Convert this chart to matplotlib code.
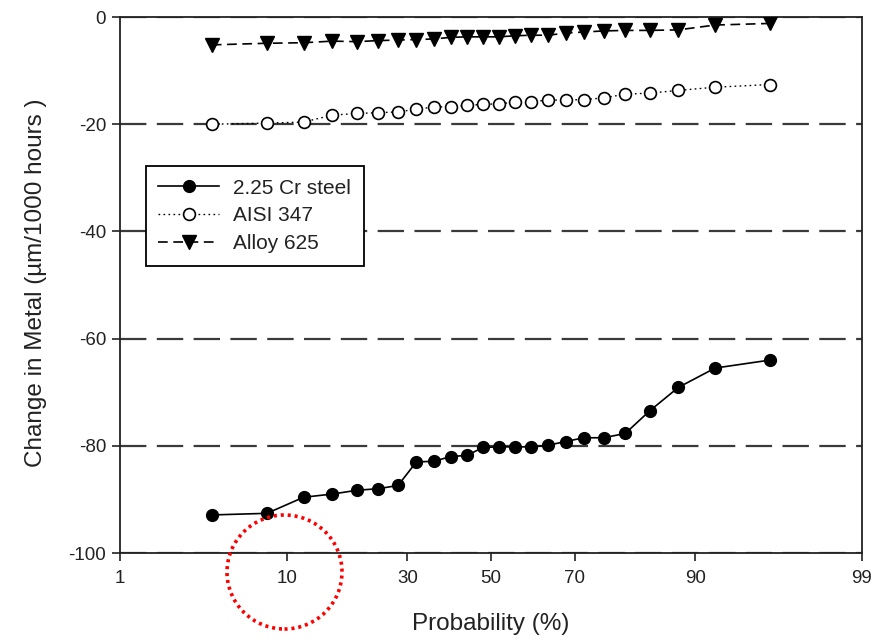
import math

import numpy as np
import matplotlib
matplotlib.use('Agg')
import matplotlib.pyplot as plt
from matplotlib.patches import Ellipse

plt.rcParams['font.family'] = ['Liberation Sans', 'DejaVu Sans']
plt.rcParams['lines.scale_dashes'] = False
plt.rcParams['axes.unicode_minus'] = False

# plotting positions (%) and measured values
prob = [4, 8, 12, 16, 20, 24, 28, 32, 36, 40, 44, 48,
        52, 56, 60, 64, 68, 72, 76, 80, 84, 88, 92, 96]

cr_steel = [-92.9, -92.6, -89.6, -89.0, -88.3, -88.0, -87.4, -83.0, -82.9, -82.0, -81.8, -80.3,
            -80.2, -80.2, -80.2, -79.9, -79.2, -78.5, -78.5, -77.7, -73.5, -69.1, -65.5, -64.0]

aisi_347 = [-20.0, -19.8, -19.6, -18.3, -18.0, -17.85, -17.7, -17.2, -16.8, -16.7, -16.5, -16.3,
            -16.2, -15.9, -15.8, -15.5, -15.5, -15.4, -15.1, -14.4, -14.2, -13.7, -13.1, -12.6]

alloy_625 = [-5.2, -4.9, -4.8, -4.5, -4.6, -4.4, -4.3, -4.2, -4.1, -3.8, -3.7, -3.7,
             -3.7, -3.5, -3.4, -3.4, -3.0, -2.8, -2.6, -2.5, -2.5, -2.4, -1.5, -1.2]

x_ticks = [1, 10, 30, 50, 70, 90, 99]
y_ticks = [0, -20, -40, -60, -80, -100]

# normal probability scale
zgrid = np.linspace(-6, 6, 4801)
cgrid = np.array([0.5 * (1 + math.erf(z / math.sqrt(2))) for z in zgrid])


def to_z(p):
    return np.interp(np.asarray(p, dtype=float) / 100.0, cgrid, zgrid)


def from_z(z):
    return 100.0 * np.interp(np.asarray(z, dtype=float), zgrid, cgrid)


fig = plt.figure(figsize=(8.87, 6.40), dpi=100)
ax = fig.add_axes([120 / 887, 1 - 553 / 640, 742 / 887, 536 / 640])
ax.set_xscale('function', functions=(to_z, from_z))

ax.plot(prob, cr_steel, color='black', lw=1.2, marker='o', ms=8.5,
        mfc='black', mec='black', label='2.25 Cr steel', zorder=4)
ax.plot(prob, aisi_347, color='black', lw=1.0, ls=(0, (1.2, 2.4)), marker='o', ms=8.5,
        mfc='white', mec='black', mew=1.2, label='AISI 347', zorder=4)
ax.plot(prob, alloy_625, color='black', lw=1.2, ls=(0, (7, 4)), marker='v', ms=9.5,
        mfc='black', mec='black', label='Alloy 625', zorder=4)

ax.set_xlim(1, 99)
ax.set_ylim(-100, 0)
ax.set_xticks(x_ticks)
ax.set_xticklabels([str(t) for t in x_ticks])
ax.set_yticks(y_ticks)
ax.set_yticklabels([str(t) for t in y_ticks])
ax.xaxis.set_minor_locator(matplotlib.ticker.NullLocator())

ax.grid(axis='y', color='#3a3a3a', lw=1.6, ls=(0, (19, 7.5)))
ax.tick_params(axis='both', direction='out', length=6, width=1.2,
               labelsize=13.5, labelcolor='#222222', color='#222222')
ax.tick_params(axis='x', pad=6)
ax.tick_params(axis='y', pad=4)
for s in ax.spines.values():
    s.set_linewidth(1.3)
    s.set_color('#222222')

ax.set_xlabel('Probability (%)', fontsize=17.5, color='#222222')
ax.set_ylabel('Change in Metal (\u00b5m/1000 hours )', fontsize=17.5, color='#222222')
ax.xaxis.set_label_coords(0.5, -0.112)
ax.yaxis.set_label_coords(-0.098, 0.505)

leg = ax.legend(loc='upper left', bbox_to_anchor=((146 - 120) / 742, (553 - 166) / 536),
                borderaxespad=0, fontsize=15, handlelength=2.9, handletextpad=0.7,
                labelspacing=0.42, borderpad=0.6, fancybox=False, framealpha=1,
                edgecolor='black')
leg.get_frame().set_linewidth(1.3)
for t in leg.get_texts():
    t.set_color('#222222')

# red dotted highlight circle
ring = Ellipse((284.5 / 887, 1 - 572 / 640), 115 / 887, 114 / 640,
               transform=fig.transFigure, fill=False, edgecolor='#ff0000',
               lw=2.6, ls=(0, (2.2, 2.8)), zorder=10, clip_on=False)
fig.patches.append(ring)

fig.savefig('out.png', dpi=100)
